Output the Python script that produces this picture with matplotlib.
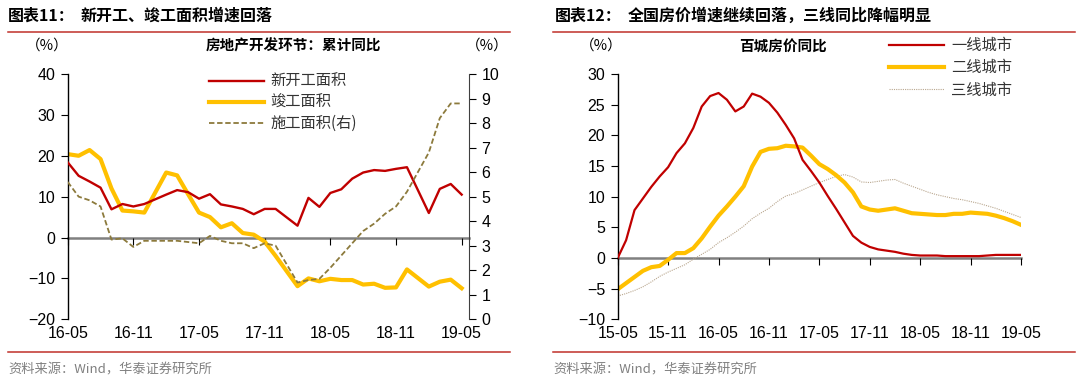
import matplotlib
matplotlib.use('Agg')
import matplotlib.pyplot as plt
from matplotlib.lines import Line2D
import pandas as pd

plt.rcParams['font.family'] = ['Liberation Sans', 'Noto Sans CJK SC', 'DejaVu Sans']
cjk = ['Noto Sans CJK SC', 'DejaVu Sans']

# left chart: cumulative yoy, January not published
left_months = ['16-05', '16-06', '16-07', '16-08', '16-09', '16-10', '16-11', '16-12',
               '17-02', '17-03', '17-04', '17-05', '17-06', '17-07', '17-08', '17-09', '17-10', '17-11', '17-12',
               '18-02', '18-03', '18-04', '18-05', '18-06', '18-07', '18-08', '18-09', '18-10', '18-11', '18-12',
               '19-02', '19-03', '19-04', '19-05']
new_start = [18.4, 15.1, 13.7, 12.2, 6.9, 8.2, 7.6, 8.2,
             10.5, 11.6, 11.1, 9.5, 10.6, 8.1, 7.6, 7.0, 5.7, 7.0, 7.0,
             2.9, 9.7, 7.5, 10.9, 11.8, 14.4, 15.9, 16.5, 16.3, 16.8, 17.2,
             6.0, 11.9, 13.1, 10.5]
completed = [20.4, 20.0, 21.4, 19.2, 12.0, 6.6, 6.4, 6.1,
             15.9, 15.2, 10.6, 6.1, 5.0, 2.5, 3.5, 1.1, 0.7, -1.0, -4.5,
             -11.9, -10.0, -10.7, -10.1, -10.4, -10.4, -11.5, -11.3, -12.3, -12.2, -7.8,
             -12.0, -10.8, -10.3, -12.4]
under_constr = [5.6, 5.0, 4.85, 4.6, 3.25, 3.3, 2.95, 3.2,
                3.2, 3.2, 3.15, 3.1, 3.4, 3.2, 3.1, 3.1, 2.9, 3.1, 3.0,
                1.5, 1.6, 1.65, 2.1, 2.6, 3.1, 3.6, 3.9, 4.3, 4.6, 5.2,
                6.8, 8.2, 8.8, 8.8]
left_ticks = ['16-05', '16-11', '17-05', '17-11', '18-05', '18-11', '19-05']

# right chart: hundred-city house price yoy
right_months = list(pd.period_range('2015-05', '2019-05', freq='M').strftime('%y-%m'))
tier1 = [0.0, 2.9, 7.8, 9.7, 11.6, 13.3, 14.8, 17.1, 18.7, 21.2, 24.7, 26.4, 26.9,
         25.8, 23.9, 24.7, 26.8, 26.3, 25.3, 23.7, 21.7, 19.5, 16.0, 14.2, 12.3,
         10.1, 8.0, 5.8, 3.6, 2.5, 1.8, 1.4, 1.2, 1.0, 0.7, 0.5, 0.4,
         0.4, 0.4, 0.3, 0.3, 0.3, 0.3, 0.3, 0.4, 0.5, 0.5, 0.5, 0.5]
tier2 = [-5.1, -4.1, -3.1, -2.1, -1.5, -1.3, -0.3, 0.8, 0.8, 1.6, 3.2, 5.1, 6.9,
         8.4, 10.0, 11.7, 14.9, 17.3, 17.8, 17.9, 18.3, 18.2, 18.0, 16.7, 15.3,
         14.5, 13.5, 12.3, 10.7, 8.4, 7.9, 7.7, 7.9, 8.1, 7.7, 7.3, 7.2,
         7.1, 7.0, 7.0, 7.2, 7.2, 7.4, 7.3, 7.2, 6.9, 6.5, 6.0, 5.4]
tier3 = [-6.2, -5.8, -5.3, -4.7, -3.9, -3.0, -2.3, -1.7, -1.1, -0.2, 0.6, 1.4, 2.5,
         3.3, 4.2, 5.2, 6.4, 7.3, 8.1, 9.2, 10.1, 10.5, 11.1, 11.7, 12.3,
         12.8, 13.3, 13.6, 13.2, 12.4, 12.3, 12.5, 12.7, 12.8, 12.2, 11.7, 11.2,
         10.7, 10.3, 10.0, 9.7, 9.5, 9.2, 8.9, 8.5, 8.1, 7.6, 7.1, 6.6]
right_ticks = ['15-05', '15-11', '16-05', '16-11', '17-05', '17-11', '18-05', '18-11', '19-05']

RED = '#C00000'
YELLOW = '#FFC000'
OLIVE = '#8C7A3C'
TAN = '#B9A78F'
TICK_SIZE = 11.5


def pos(m, start):
    yy, mm = m.split('-')
    y0, m0 = start.split('-')
    return (int(yy) - int(y0)) * 12 + int(mm) - int(m0)


def style(ax, ticks, labels, start):
    tx = [pos(t, start) for t in ticks]
    for s in ['top', 'right']:
        ax.spines[s].set_visible(False)
    ax.spines['bottom'].set_position(('data', 0))
    ax.spines['bottom'].set_color('#808080')
    ax.spines['bottom'].set_linewidth(1.8)
    ax.spines['bottom'].set_zorder(1)
    ax.spines['left'].set_color('black')
    ax.spines['left'].set_linewidth(1.0)
    ax.set_xticks(tx)
    ax.tick_params(axis='x', direction='out', length=5, width=0.8, color='black', labelbottom=False)
    ax.tick_params(axis='y', direction='out', length=5, width=0.8, labelsize=TICK_SIZE, pad=4)
    sec = ax.secondary_xaxis('bottom')
    sec.set_xticks(tx, labels)
    sec.spines['bottom'].set_visible(False)
    sec.tick_params(length=0, labelsize=TICK_SIZE, pad=5)


fig = plt.figure(figsize=(10.8, 3.84), dpi=100)


def fx(px):
    return px / 1080


def fy(py):
    return 1 - py / 384


# ---- left panel
ax = fig.add_axes([fx(67.7), fy(319.3), fx(401.3), 245.3 / 384])
xl = [pos(m, '16-05') for m in left_months]
l1, = ax.plot(xl, new_start, color=RED, lw=1.7, label='新开工面积', zorder=3)
l2, = ax.plot(xl, completed, color=YELLOW, lw=3.0, label='竣工面积', zorder=2)
ax.set_xlim(0, 36.67)
ax.set_ylim(-20, 40)
ax.set_yticks(range(-20, 41, 10))
style(ax, left_ticks, left_ticks, '16-05')

ax2 = ax.twinx()
l3, = ax2.plot(xl, under_constr, color=OLIVE, lw=1.3, ls=(0, (3, 1.5)), label='施工面积(右)')
ax2.set_ylim(0, 10)
ax2.set_yticks(range(0, 11))
for s in ['top', 'left', 'bottom']:
    ax2.spines[s].set_visible(False)
ax2.spines['right'].set_color('#404040')
ax2.tick_params(axis='y', direction='out', length=5, width=0.8, labelsize=TICK_SIZE, pad=4)

fig.legend(handles=[l1, l2, l3], loc='upper left', bbox_to_anchor=(fx(209), fy(73)),
           frameon=False, borderpad=0, borderaxespad=0, handlelength=3.6, handletextpad=0.4,
           labelspacing=0.27, prop={'family': cjk, 'size': 11}, labelcolor='#333333')

# ---- right panel
bx = fig.add_axes([fx(617.7), fy(319.3), fx(403.3), 245.3 / 384])
xr = [pos(m, '15-05') for m in right_months]
r1, = bx.plot(xr, tier1, color=RED, lw=1.6, label='一线城市', zorder=3)
r2, = bx.plot(xr, tier2, color=YELLOW, lw=3.0, label='二线城市', zorder=2)
r3, = bx.plot(xr, tier3, color=TAN, lw=0.8, ls=(0, (1, 1)), label='三线城市', zorder=1.5)
bx.set_xlim(0, 48)
bx.set_ylim(-10, 30)
bx.set_yticks(range(-10, 31, 5))
style(bx, right_ticks, right_ticks, '15-05')

fig.legend(handles=[r1, r2, r3], loc='upper left', bbox_to_anchor=(fx(889), fy(37)),
           frameon=False, borderpad=0, borderaxespad=0, handlelength=3.6, handletextpad=0.45,
           labelspacing=0.34, prop={'family': cjk, 'size': 11}, labelcolor='#333333')

# ---- titles, rules and notes
fig.text(fx(8), fy(16), '图表11：', family=cjk, fontsize=11.5, weight='bold', va='center')
fig.text(fx(81), fy(16), '新开工、竣工面积增速回落', family=cjk, fontsize=11.5, weight='bold', va='center')
fig.text(fx(555), fy(16), '图表12：', family=cjk, fontsize=11.5, weight='bold', va='center')
fig.text(fx(628), fy(16), '全国房价增速继续回落，三线同比降幅明显', family=cjk, fontsize=11.5, weight='bold', va='center')

fig.text(fx(47), fy(46), '（%）', family=cjk, fontsize=10.5, ha='center', va='center')
fig.text(fx(293), fy(46), '房地产开发环节：累计同比', family=cjk, fontsize=10.5, weight='bold',
         ha='center', va='center')
fig.text(fx(487), fy(46), '（%）', family=cjk, fontsize=10.5, ha='center', va='center')
fig.text(fx(601), fy(46), '（%）', family=cjk, fontsize=10.5, ha='center', va='center')
fig.text(fx(783), fy(46), '百城房价同比', family=cjk, fontsize=10.5, weight='bold', ha='center', va='center')

for x0, x1 in [(8, 510), (553, 1075)]:
    for yy in [32, 352]:
        fig.add_artist(Line2D([fx(x0), fx(x1)], [fy(yy), fy(yy)], transform=fig.transFigure,
                              color='#C0302A', lw=1.1))

fig.text(fx(8), fy(370), '资料来源：Wind，华泰证券研究所', family=cjk, fontsize=9.5, color='#808080', va='center')
fig.text(fx(553), fy(370), '资料来源：Wind，华泰证券研究所', family=cjk, fontsize=9.5, color='#808080', va='center')

fig.savefig('out.png', dpi=100)
